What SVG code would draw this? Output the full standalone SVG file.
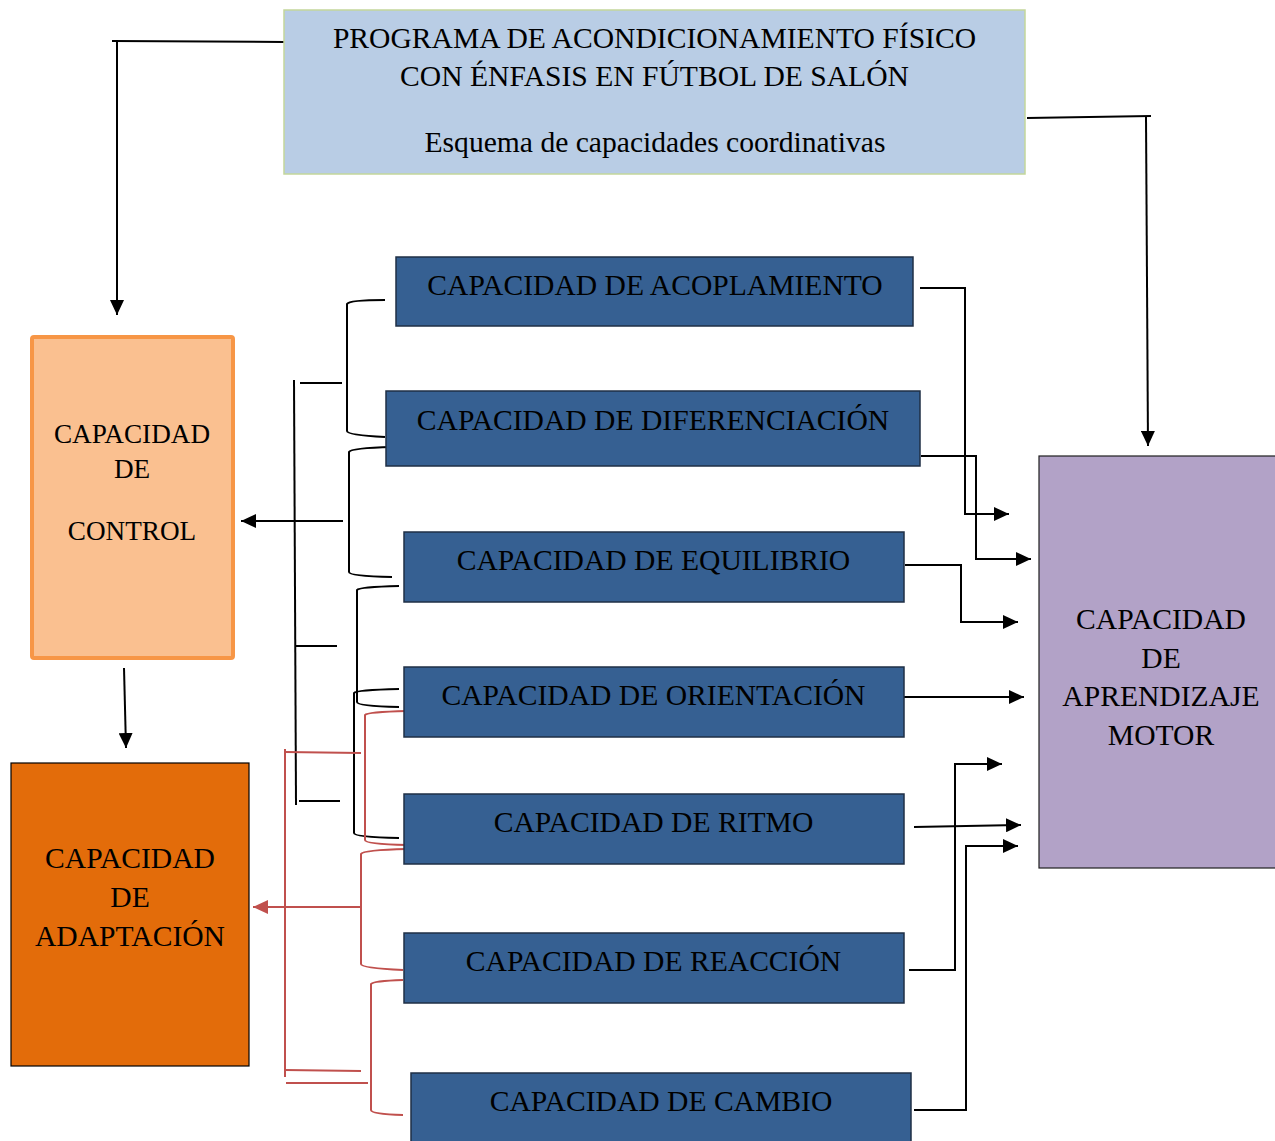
<svg xmlns="http://www.w3.org/2000/svg" width="1275" height="1141" viewBox="0 0 1275 1141">
<defs>
<style>
.t{font-family:"Liberation Serif","Times New Roman",serif;fill:#000;text-anchor:middle}
.f29{font-size:29.6px}
.f26{font-size:27.2px}
.blue{fill:#366092;stroke:#1f2f45;stroke-width:1.5}
.k{fill:none;stroke:#000;stroke-width:2}
.r{fill:none;stroke:#c0504d;stroke-width:2}
</style>
<marker id="ak" markerUnits="userSpaceOnUse" markerWidth="15" markerHeight="14" refX="15" refY="7" orient="auto" viewBox="0 0 15 14"><path d="M0,0 L15,7 L0,14 z" fill="#000"/></marker>
<marker id="ar" markerUnits="userSpaceOnUse" markerWidth="15" markerHeight="14" refX="15" refY="7" orient="auto" viewBox="0 0 15 14"><path d="M0,0 L15,7 L0,14 z" fill="#c0504d"/></marker>
</defs>
<rect width="1275" height="1141" fill="#fff"/>

<g id="connectors">
<path class="k" d="M284,42 L112,41"/>
<path class="k" d="M117,42 L117,315" marker-end="url(#ak)"/>
<path class="k" d="M1027,118 L1151,116"/>
<path class="k" d="M1146,117 L1148,446" marker-end="url(#ak)"/>
<path class="k" d="M124,668 L126,748" marker-end="url(#ak)"/>
<path class="k" d="M920,288 L965,288 L965,514 L1009,514" marker-end="url(#ak)"/>
<path class="k" d="M921,456 L976,456 L976,559 L1031,559" marker-end="url(#ak)"/>
<path class="k" d="M905,565 L961,565 L961,622 L1018,622" marker-end="url(#ak)"/>
<path class="k" d="M904,697 L1024,697" marker-end="url(#ak)"/>
<path class="k" d="M914,827 L1021,825" marker-end="url(#ak)"/>
<path class="k" d="M909,970 L955,970 L955,764 L1002,764" marker-end="url(#ak)"/>
<path class="k" d="M914,1110 L966,1110 L966,846 L1018,846" marker-end="url(#ak)"/>
<path class="k" d="M385,300 Q349,300 347,304 L347,431 Q347,435 385,437"/>
<path class="k" d="M392,447 Q351,448 349,452 L349,572 Q349,576 392,577"/>
<path class="k" d="M399,586 Q359,587 357,590 L357,702 Q357,706 399,707"/>
<path class="k" d="M399,689 Q356,690 354,693 L354,833 Q354,837 399,838"/>
<path class="k" d="M294,380 L296,805"/>
<path class="k" d="M300,383 L342,383"/>
<path class="k" d="M343,521 L241,521" marker-end="url(#ak)"/>
<path class="k" d="M296,646 L337,646"/>
<path class="k" d="M299,801 L340,801"/>
<path class="r" d="M407,711 Q367,712 365,715 L365,840 Q365,844 407,845"/>
<path class="r" d="M407,849 Q363,850 361,854 L361,964 Q361,968 403,970"/>
<path class="r" d="M403,980 Q373,981 371,984 L371,1110 Q371,1114 403,1115"/>
<path class="r" d="M361,907 L253,907" marker-end="url(#ar)"/>
<path class="r" d="M285,749 L285,1077"/>
<path class="r" d="M285,752 L361,753"/>
<path class="r" d="M285,1070 L361,1071"/>
<path class="r" d="M286,1083 L368,1083"/>
</g>

<g id="title">
<rect x="284" y="10" width="741" height="164" fill="#b9cde5" stroke="#c3d69b" stroke-width="1.5"/>
<text class="t f29" x="654.5" y="48">PROGRAMA DE ACONDICIONAMIENTO FÍSICO</text>
<text class="t f29" x="654.5" y="86">CON ÉNFASIS EN FÚTBOL DE SALÓN</text>
<text class="t f29" x="655" y="152">Esquema de capacidades coordinativas</text>
</g>

<g id="control">
<rect x="32" y="337" width="201" height="321" rx="2" fill="#fac090" stroke="#f79646" stroke-width="4"/>
<text class="t f26" x="132" y="443">CAPACIDAD</text>
<text class="t f26" x="132" y="478">DE</text>
<text class="t f26" x="132" y="540">CONTROL</text>
</g>

<g id="adaptacion">
<rect x="11" y="763" width="238" height="303" fill="#e36c0a" stroke="#000" stroke-width="1.2"/>
<text class="t f29" x="130" y="868">CAPACIDAD</text>
<text class="t f29" x="130" y="907">DE</text>
<text class="t f29" x="130" y="946">ADAPTACIÓN</text>
</g>

<g id="aprendizaje">
<rect x="1039" y="456" width="240" height="412" fill="#b2a2c7" stroke="#1f1f1f" stroke-width="1.2"/>
<text class="t f29" x="1161" y="629">CAPACIDAD</text>
<text class="t f29" x="1161" y="668">DE</text>
<text class="t f29" x="1161" y="706">APRENDIZAJE</text>
<text class="t f29" x="1161" y="745">MOTOR</text>
</g>

<g id="acoplamiento">
<rect class="blue" x="396" y="257" width="517" height="69"/>
<text class="t f29" x="655" y="295">CAPACIDAD DE ACOPLAMIENTO</text>
</g>
<g id="diferenciacion">
<rect class="blue" x="386" y="391" width="534" height="75"/>
<text class="t f29" x="653" y="430">CAPACIDAD DE DIFERENCIACIÓN</text>
</g>
<g id="equilibrio">
<rect class="blue" x="404" y="532" width="500" height="70"/>
<text class="t f29" x="653.5" y="570">CAPACIDAD DE EQUILIBRIO</text>
</g>
<g id="orientacion">
<rect class="blue" x="404" y="667" width="500" height="70"/>
<text class="t f29" x="653.5" y="705">CAPACIDAD DE ORIENTACIÓN</text>
</g>
<g id="ritmo">
<rect class="blue" x="404" y="794" width="500" height="70"/>
<text class="t f29" x="653.5" y="832">CAPACIDAD DE RITMO</text>
</g>
<g id="reaccion">
<rect class="blue" x="404" y="933" width="500" height="70"/>
<text class="t f29" x="653.5" y="971">CAPACIDAD DE REACCIÓN</text>
</g>
<g id="cambio">
<rect class="blue" x="411" y="1073" width="500" height="75"/>
<text class="t f29" x="661" y="1111">CAPACIDAD DE CAMBIO</text>
</g>
</svg>
